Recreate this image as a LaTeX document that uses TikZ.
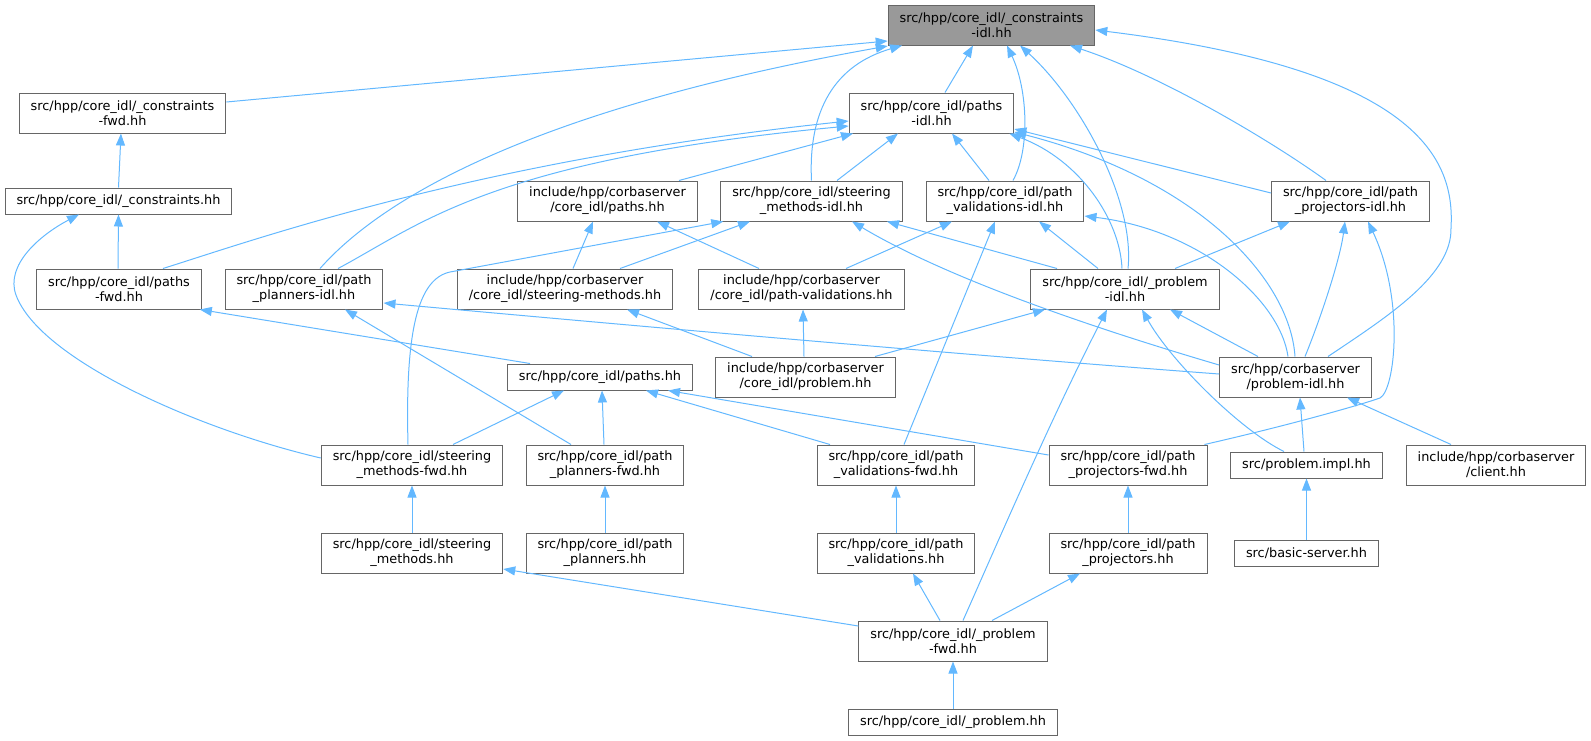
\documentclass[tikz,border=0pt]{standalone}
\usepackage{fontspec}
\setmainfont{DejaVu Sans}
\usetikzlibrary{arrows.meta}
\definecolor{edgeblue}{HTML}{63B8FF}
\definecolor{boxline}{HTML}{666666}
\definecolor{curfill}{HTML}{999999}
\tikzset{
  incbox/.style={draw=boxline, line width=1pt, fill=white, inner xsep=11.5pt, inner ysep=2pt,
    minimum height=40pt, align=center, font=\fontsize{12.85}{15}\selectfont},
  incbox1/.style={incbox, minimum height=26pt},
  curbox/.style={incbox, fill=curfill},
  incl/.style={draw=edgeblue, line width=1pt, -{Triangle[length=12pt,width=9pt]}}
}
\begin{document}
\begin{tikzpicture}[x=1pt,y=-1pt]
  \useasboundingbox (0,0) rectangle (1591,740);
  % files
  \node[curbox] (ci) at (991.5,25) {src/hpp/core\_idl/\_constraints\\-idl.hh};
  \node[incbox] (cf) at (122.5,113) {src/hpp/core\_idl/\_constraints\\-fwd.hh};
  \node[incbox] (pi) at (931.5,113) {src/hpp/core\_idl/paths\\-idl.hh};
  \node[incbox1] (cc) at (118.5,201) {src/hpp/core\_idl/\_constraints.hh};
  \node[incbox] (ip) at (607.5,201) {include/hpp/corbaserver\\/core\_idl/paths.hh};
  \node[incbox] (smi) at (811.5,201) {src/hpp/core\_idl/steering\\\_methods-idl.hh};
  \node[incbox] (pvi) at (1005,201) {src/hpp/core\_idl/path\\\_validations-idl.hh};
  \node[incbox] (pji) at (1350.5,201) {src/hpp/core\_idl/path\\\_projectors-idl.hh};
  \node[incbox] (pf) at (119,289) {src/hpp/core\_idl/paths\\-fwd.hh};
  \node[incbox] (ppi) at (304,289) {src/hpp/core\_idl/path\\\_planners-idl.hh};
  \node[incbox] (ism) at (565,289) {include/hpp/corbaserver\\/core\_idl/steering-methods.hh};
  \node[incbox] (ipv) at (801.5,289) {include/hpp/corbaserver\\/core\_idl/path-validations.hh};
  \node[incbox] (pri) at (1125,289) {src/hpp/core\_idl/\_problem\\-idl.hh};
  \node[incbox1] (ph) at (600,377) {src/hpp/core\_idl/paths.hh};
  \node[incbox] (iph) at (805.5,377) {include/hpp/corbaserver\\/core\_idl/problem.hh};
  \node[incbox] (cpi) at (1295.5,377) {src/hpp/corbaserver\\/problem-idl.hh};
  \node[incbox] (smf) at (412,465) {src/hpp/core\_idl/steering\\\_methods-fwd.hh};
  \node[incbox] (ppf) at (605,465) {src/hpp/core\_idl/path\\\_planners-fwd.hh};
  \node[incbox] (pvf) at (896,465) {src/hpp/core\_idl/path\\\_validations-fwd.hh};
  \node[incbox] (pjf) at (1128,465) {src/hpp/core\_idl/path\\\_projectors-fwd.hh};
  \node[incbox1] (impl) at (1306.5,465) {src/problem.impl.hh};
  \node[incbox] (client) at (1496,465) {include/hpp/corbaserver\\/client.hh};
  \node[incbox] (sm) at (412,553) {src/hpp/core\_idl/steering\\\_methods.hh};
  \node[incbox] (pp) at (605,553) {src/hpp/core\_idl/path\\\_planners.hh};
  \node[incbox] (pv) at (896,553) {src/hpp/core\_idl/path\\\_validations.hh};
  \node[incbox] (pj) at (1128,553) {src/hpp/core\_idl/path\\\_projectors.hh};
  \node[incbox1] (bs) at (1306.5,553) {src/basic-server.hh};
  \node[incbox] (prf) at (953,641) {src/hpp/core\_idl/\_problem\\-fwd.hh};
  \node[incbox1] (prh) at (953,722) {src/hpp/core\_idl/\_problem.hh};
  % includes
  \draw[incl] ([yshift=11pt]cf.east) -- ([yshift=-16pt]ci.west);
  \draw[incl] ([xshift=16pt]ppi.north) .. controls (385,195) and (540,108) .. ([yshift=-21pt]ci.west);
  \draw[incl] (smi.north) .. controls (808,110) and (835,65) .. ([xshift=-89.5pt]ci.south);
  \draw[incl] ([xshift=13.5pt]pi.north) -- ([xshift=-18.5pt]ci.south);
  \draw[incl] ([xshift=8pt]pvi.north) .. controls (1030,150) and (1028,90) .. ([xshift=15.5pt]ci.south);
  \draw[incl] ([xshift=3pt]pri.north) .. controls (1135,200) and (1080,100) .. ([xshift=28.5pt]ci.south);
  \draw[incl] ([xshift=-24.5pt]pji.north) .. controls (1270,140) and (1160,75) .. ([xshift=78.5pt]ci.south);
  \draw[incl] ([xshift=32.5pt]cpi.north) .. controls (1390,315) and (1452,275) .. (1451,228)
    .. controls (1455,160) and (1420,70) .. ([yshift=-5pt]ci.east);
  \draw[incl] (cc.north) -- ([xshift=-1.5pt]cf.south);
  \draw[incl] ([xshift=-1pt]pf.north) -- (cc.south);
  \draw[incl] ([yshift=7pt]smf.west) .. controls (200,430) and (40,360) .. (16,295)
    .. controls (5,265) and (40,235) .. ([xshift=-39.5pt]cc.south);
  \draw[incl] ([xshift=44pt]pf.north) .. controls (260,238) and (480,160) .. ([yshift=-8pt]pi.west);
  \draw[incl] ([xshift=34pt]ppi.north) .. controls (420,225) and (490,160) .. ([yshift=-13pt]pi.west);
  \draw[incl] ([xshift=71.5pt]ip.north) -- ([xshift=-78.5pt]pi.south);
  \draw[incl] ([xshift=25.5pt]smi.north) -- ([xshift=-33.5pt]pi.south);
  \draw[incl] ([xshift=-16pt]pvi.north) -- ([xshift=20.5pt]pi.south);
  \draw[incl] ([xshift=-3pt]pri.north) .. controls (1120,220) and (1080,160) .. ([xshift=-5pt]pi.south east);
  \draw[incl] ([yshift=8pt]pji.west) -- ([yshift=-16pt]pi.east);
  \draw[incl] ([xshift=-0.5pt]cpi.north) .. controls (1290,280) and (1200,180) .. ([yshift=-19pt]pi.east);
  \draw[incl] ([xshift=8pt]ism.north) -- ([xshift=-14.5pt]ip.south);
  \draw[incl] ([xshift=-42.5pt]ipv.north) -- ([xshift=49.5pt]ip.south);
  \draw[incl] ([xshift=-4pt]smf.north) .. controls (405,330) and (418,279) .. (450,272)
    -- ([xshift=3pt]smi.south west);
  \draw[incl] ([xshift=55pt]ism.north) -- ([xshift=-61.5pt]smi.south);
  \draw[incl] ([yshift=12pt]cpi.west) .. controls (1100,330) and (950,280) .. ([xshift=40.5pt]smi.south);
  \draw[incl] ([xshift=-68pt]pri.north) -- ([xshift=75.5pt]smi.south);
  \draw[incl] ([xshift=44.5pt]ipv.north) -- ([xshift=-53pt]pvi.south);
  \draw[incl] ([xshift=-27pt]pri.north) -- ([xshift=34pt]pvi.south);
  \draw[incl] ([xshift=-7.5pt]cpi.north) .. controls (1280,300) and (1200,230) .. ([yshift=-15pt]pvi.east);
  \draw[incl] ([xshift=8pt]pvf.north) -- ([xshift=-10pt]pvi.south);
  \draw[incl] ([xshift=50pt]pri.north) -- ([xshift=-60.5pt]pji.south);
  \draw[incl] ([xshift=9.5pt]cpi.north) .. controls (1320,320) and (1340,260) .. ([xshift=-5.5pt]pji.south);
  \draw[incl] ([xshift=-3pt]pjf.north east) .. controls (1290,425) and (1360,405) .. (1380,398)
    .. controls (1395,390) and (1405,300) .. ([xshift=17.5pt]pji.south);
  \draw[incl] ([xshift=-70pt]ph.north) -- ([xshift=-2pt]pf.south east);
  \draw[incl] ([yshift=3pt]cpi.west) .. controls (900,350) and (550,318) .. ([yshift=-14pt]ppi.east);
  \draw[incl] ([xshift=-34pt]ppf.north) -- ([xshift=41pt]ppi.south);
  \draw[incl] ([xshift=-53.5pt]iph.north) -- ([xshift=62pt]ism.south);
  \draw[incl] ([xshift=-1.5pt]iph.north) -- ([xshift=1.5pt]ipv.south);
  \draw[incl] ([xshift=69.5pt]iph.north) -- ([xshift=-80pt]pri.south);
  \draw[incl] ([xshift=-37.5pt]cpi.north) -- ([xshift=45pt]pri.south);
  \draw[incl] ([xshift=-22.5pt]impl.north) .. controls (1240,430) and (1170,360) .. ([xshift=17pt]pri.south);
  \draw[incl] ([xshift=10pt]prf.north) .. controls (990,560) and (1050,420) .. ([xshift=-18pt]pri.south);
  \draw[incl] ([xshift=-2.5pt]impl.north) -- ([xshift=4.5pt]cpi.south);
  \draw[incl] ([xshift=-45pt]client.north) -- ([xshift=51.5pt]cpi.south);
  \draw[incl] ([xshift=41pt]smf.north) -- ([xshift=-36pt]ph.south);
  \draw[incl] ([xshift=-1pt]ppf.north) -- ([xshift=2pt]ph.south);
  \draw[incl] ([xshift=-66pt]pvf.north) -- ([xshift=46pt]ph.south);
  \draw[incl] ([yshift=10pt]pjf.west) -- ([xshift=68pt]ph.south);
  \draw[incl] (sm.north) -- (smf.south);
  \draw[incl] (pp.north) -- (ppf.south);
  \draw[incl] (pv.north) -- (pvf.south);
  \draw[incl] (pj.north) -- (pjf.south);
  \draw[incl] (bs.north) -- (impl.south);
  \draw[incl] ([yshift=15pt]prf.west) -- ([yshift=-16pt]sm.east);
  \draw[incl] ([xshift=-13pt]prf.north) -- ([xshift=17pt]pv.south);
  \draw[incl] ([xshift=39pt]prf.north) -- ([xshift=-48pt]pj.south);
  \draw[incl] (prh.north) -- (prf.south);
\end{tikzpicture}
\end{document}
